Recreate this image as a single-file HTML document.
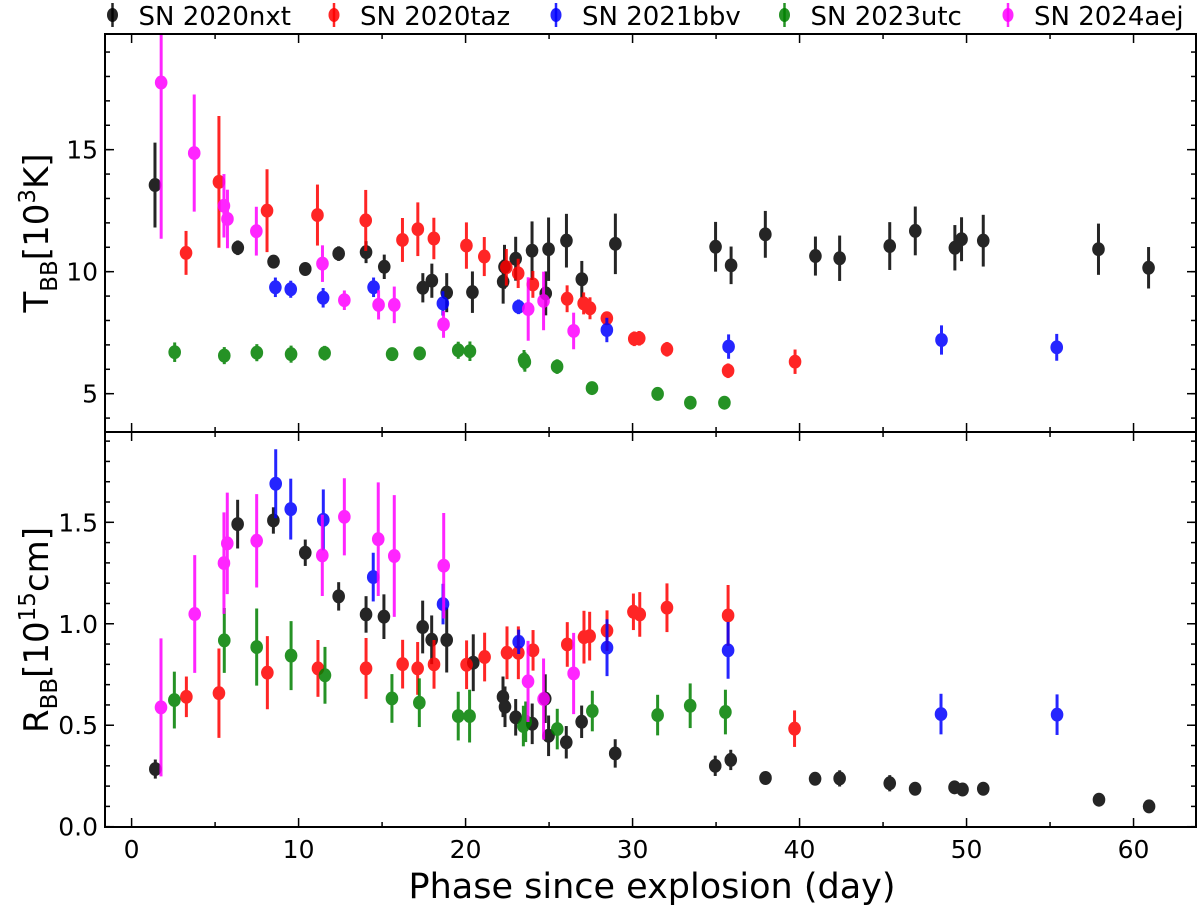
<!DOCTYPE html>
<html><head><meta charset="utf-8"><style>
html,body{margin:0;padding:0;background:#fff;}
svg{display:block;font-family:"DejaVu Sans","Liberation Sans",sans-serif;}
</style></head><body>
<svg id="chart" width="1200" height="908" viewBox="0 0 1200 908" xmlns="http://www.w3.org/2000/svg">
<defs>
<clipPath id="clipTop"><rect x="105" y="34" width="1091" height="398"/></clipPath>
<clipPath id="clipBot"><rect x="105" y="432" width="1091" height="395"/></clipPath>
</defs>
<g id="legend"></g>
<g id="topPanel"></g>
<g id="botPanel"></g>
<text transform="translate(48,233) rotate(-90)" text-anchor="middle" font-size="34">T<tspan font-size="23" dy="9">BB</tspan><tspan dy="-9">[10</tspan><tspan font-size="23" dy="-13">3</tspan><tspan dy="13">K]</tspan></text>
<text transform="translate(48,630) rotate(-90)" text-anchor="middle" font-size="34">R<tspan font-size="23" dy="9">BB</tspan><tspan dy="-9">[10</tspan><tspan font-size="23" dy="-13">15</tspan><tspan dy="13">cm]</tspan></text>
<text x="652" y="898" text-anchor="middle" font-size="35">Phase since explosion (day)</text>
</svg>
<script>
// ---- data: temperature (10^3 K) ----
const nxtTDay=[1.4,6.36,8.5,10.4,12.4,14.04,15.13,17.44,17.98,18.87,20.41,22.25,22.33,23.0,23.98,24.8,24.97,26.04,26.96,28.97,34.97,35.9,37.95,40.95,42.4,45.4,46.93,49.3,49.7,51.0,57.9,60.9];
const nxtT=[13.55,10.98,10.41,10.11,10.74,10.8,10.2,9.34,9.63,9.14,9.16,9.59,10.2,10.53,10.86,9.11,10.92,11.27,9.69,11.14,11.02,10.26,11.53,10.64,10.55,11.05,11.67,10.98,11.33,11.27,10.92,10.16];
const nxtTErr=[1.74,0.3,0.2,0.15,0.3,0.45,0.5,0.6,0.7,0.8,0.85,0.9,0.9,0.9,1.2,0.9,1.3,1.1,0.75,1.24,1.02,0.77,0.96,0.8,0.93,0.98,1.0,0.93,0.9,1.06,1.05,0.85];
const tazTDay=[3.26,5.23,8.11,11.13,14.02,16.22,17.14,18.1,20.05,21.12,22.44,23.15,24.03,26.08,27.07,27.45,28.46,30.1,30.4,32.06,35.72,39.73];
const tazT=[10.77,13.68,12.5,12.32,12.1,11.3,11.74,11.36,11.07,10.62,10.18,9.93,9.48,8.89,8.7,8.5,8.09,7.25,7.27,6.82,5.94,6.31];
const tazTErr=[0.9,2.7,1.7,1.25,1.25,0.9,1.1,0.85,0.95,0.8,0.75,0.6,0.55,0.55,0.45,0.45,0.27,0.3,0.3,0.3,0.3,0.5];
const bbvTDay=[8.61,9.53,11.47,14.49,18.64,23.17,28.46,35.75,48.5,55.4];
const bbvT=[9.36,9.28,8.93,9.36,8.7,8.56,7.61,6.93,7.2,6.9];
const bbvTErr=[0.4,0.35,0.4,0.4,0.5,0.3,0.5,0.5,0.6,0.55];
const utcTDay=[2.58,5.55,7.5,9.55,11.56,15.6,17.25,19.56,20.26,23.5,23.55,25.48,27.57,31.5,33.46,35.5];
const utcT=[6.7,6.56,6.68,6.62,6.66,6.62,6.65,6.78,6.74,6.39,6.3,6.11,5.23,4.99,4.63,4.63];
const utcTErr=[0.4,0.35,0.35,0.35,0.3,0.2,0.2,0.35,0.4,0.4,0.4,0.3,0.2,0.15,0.1,0.1];
const aejTDay=[1.77,3.75,5.53,5.74,7.47,11.43,12.74,14.79,15.73,18.68,23.75,24.67,26.47];
const aejT=[17.75,14.86,12.7,12.16,11.66,10.33,8.83,8.64,8.64,7.84,8.47,8.8,7.57];
const aejTErr=[6.4,2.4,1.3,1.2,1.0,0.75,0.4,0.6,0.75,0.55,1.3,1.2,0.75];
// ---- data: radius (10^15 cm) ----
const nxtRDay=[1.42,6.35,8.49,10.4,12.4,14.04,15.11,17.43,17.97,18.87,20.46,22.24,22.36,23.0,23.99,24.77,24.97,26.03,26.95,28.96,34.95,35.88,37.96,40.93,42.4,45.4,46.92,49.28,49.76,51.0,57.93,60.93];
const nxtR=[0.284,1.491,1.509,1.35,1.135,1.046,1.035,0.984,0.921,0.92,0.808,0.64,0.591,0.539,0.507,0.631,0.448,0.416,0.517,0.361,0.3,0.329,0.24,0.236,0.238,0.214,0.187,0.194,0.183,0.187,0.133,0.1];
const nxtRErr=[0.047,0.12,0.065,0.065,0.07,0.09,0.11,0.13,0.12,0.16,0.14,0.1,0.1,0.09,0.1,0.12,0.1,0.08,0.08,0.07,0.05,0.05,0.03,0.03,0.04,0.04,0.03,0.03,0.03,0.03,0.03,0.03];
const tazRDay=[3.28,5.23,8.13,11.16,14.04,16.23,17.13,18.11,20.06,21.14,22.48,23.16,24.04,26.09,27.09,27.43,28.47,30.05,30.43,32.06,35.72,39.7];
const tazR=[0.64,0.658,0.759,0.78,0.78,0.801,0.78,0.8,0.798,0.836,0.857,0.857,0.869,0.898,0.934,0.939,0.966,1.059,1.046,1.079,1.041,0.483];
const tazRErr=[0.1,0.22,0.18,0.14,0.15,0.12,0.13,0.12,0.12,0.12,0.13,0.13,0.1,0.11,0.13,0.12,0.1,0.09,0.11,0.12,0.15,0.09];
const bbvRDay=[8.63,9.53,11.48,14.47,18.65,23.18,28.47,35.72,48.47,55.42];
const bbvR=[1.69,1.565,1.512,1.23,1.097,0.911,0.882,0.869,0.555,0.552];
const bbvRErr=[0.17,0.15,0.15,0.12,0.1,0.06,0.14,0.14,0.1,0.1];
const utcRDay=[2.56,5.55,7.49,9.55,11.58,15.59,17.23,19.56,20.24,23.46,23.6,25.49,27.59,31.5,33.45,35.56];
const utcR=[0.624,0.918,0.885,0.843,0.746,0.632,0.611,0.545,0.545,0.496,0.517,0.481,0.57,0.55,0.596,0.565];
const utcRErr=[0.14,0.16,0.19,0.17,0.14,0.12,0.12,0.12,0.13,0.1,0.1,0.1,0.1,0.1,0.11,0.11];
const aejRDay=[1.76,3.78,5.53,5.73,7.49,11.42,12.74,14.77,15.73,18.69,23.74,24.67,26.47];
const aejR=[0.588,1.048,1.299,1.396,1.409,1.337,1.527,1.417,1.334,1.286,0.716,0.629,0.755];
const aejRErr=[0.34,0.29,0.25,0.25,0.23,0.2,0.19,0.28,0.3,0.26,0.2,0.2,0.2];
// ---- labels ----
const seriesNames=["SN 2020nxt","SN 2020taz","SN 2021bbv","SN 2023utc","SN 2024aej"];
const seriesColors=["#000000","#ff0000","#0000ff","#008000","#ff00ff"];
const xTicks=[0,10,20,30,40,50,60];
const topYTicks=[5,10,15];
const botYTicks=[0.0,0.5,1.0,1.5];
const botYTickLabels=["0.0","0.5","1.0","1.5"];

const NS="http://www.w3.org/2000/svg";
const L=105,R=1196;
const xMin=-1.593,xMax=63.74;
function xs(d){return L+(d-xMin)/(xMax-xMin)*(R-L);}
const topY0=34,topY1=432,tMin=3.43,tMax=19.74;
function yT(v){return topY1-(v-tMin)/(tMax-tMin)*(topY1-topY0);}
const botY0=432,botY1=827,rMin=-0.0015,rMax=1.945;
function yR(v){return botY1-(v-rMin)/(rMax-rMin)*(botY1-botY0);}
function mk(tag,attrs,parent){const e=document.createElementNS(NS,tag);for(const k in attrs)e.setAttribute(k,attrs[k]);parent.appendChild(e);return e;}

function drawPanel(g,clip,yf,sets,y0,y1,yMajor,yMajorLabels,yMinorStep,yLo,yHi,panel,showX){
  const dg=mk('g',{'clip-path':'url(#'+clip+')'},g);
  
  
  sets.forEach((s,si)=>{
    const sg=mk('g',{opacity:0.85},dg);
    
    
    s[0].forEach((d,i)=>{
      const cx=xs(d),cy=yf(s[1][i]);
      const eb=mk('line',{x1:cx,x2:cx,y1:yf(s[1][i]+s[2][i]),y2:yf(s[1][i]-s[2][i]),stroke:seriesColors[si],'stroke-width':3},sg);
      
      
      const c=mk('ellipse',{cx:cx,cy:cy,rx:6.3,ry:7,fill:seriesColors[si]},sg);
      
      
    });
  });
  const fr=mk('rect',{x:L,y:y0,width:R-L,height:y1-y0,fill:'none',stroke:'#000','stroke-width':2},g);
  
  
  for(let v=0;v<=xMax;v+=5){
    const x=xs(v);const len=(v%10===0)?9:5;
    mk('line',{x1:x,x2:x,y1:y1,y2:y1-len,stroke:'#000','stroke-width':1.5},g);
    mk('line',{x1:x,x2:x,y1:y0,y2:y0+len,stroke:'#000','stroke-width':1.5},g);
  }
  for(let v=Math.ceil(yLo/yMinorStep)*yMinorStep;v<=yHi;v+=yMinorStep){
    const y=yf(v);if(y<y0||y>y1)continue;
    mk('line',{x1:L,x2:L+5,y1:y,y2:y,stroke:'#000','stroke-width':1.5},g);
    mk('line',{x1:R,x2:R-5,y1:y,y2:y,stroke:'#000','stroke-width':1.5},g);
  }
  yMajor.forEach((v,i)=>{
    const y=yf(v);
    mk('line',{x1:L,x2:L+9,y1:y,y2:y,stroke:'#000','stroke-width':1.5},g);
    mk('line',{x1:R,x2:R-9,y1:y,y2:y,stroke:'#000','stroke-width':1.5},g);
    const t=mk('text',{x:98,y:y+9,'text-anchor':'end','font-size':25},g);
    t.textContent=yMajorLabels[i];
    
    
  });
  if(showX){
    xTicks.forEach(v=>{
      const t=mk('text',{x:xs(v),y:858,'text-anchor':'middle','font-size':25},g);
      t.textContent=String(v);
      
      
    });
  }
}
const topG=document.getElementById('topPanel');
const botG=document.getElementById('botPanel');
drawPanel(topG,'clipTop',yT,[[nxtTDay,nxtT,nxtTErr],[tazTDay,tazT,tazTErr],[bbvTDay,bbvT,bbvTErr],[utcTDay,utcT,utcTErr],[aejTDay,aejT,aejTErr]],topY0,topY1,topYTicks,topYTicks.map(String),1,tMin,tMax,'temperature',false);
drawPanel(botG,'clipBot',yR,[[nxtRDay,nxtR,nxtRErr],[tazRDay,tazR,tazRErr],[bbvRDay,bbvR,bbvRErr],[utcRDay,utcR,utcRErr],[aejRDay,aejR,aejRErr]],botY0,botY1,botYTicks,botYTickLabels,0.1,rMin,rMax,'radius',true);

const lg=document.getElementById('legend');
const legX=[112.5,334,556,784.5,1008];
seriesNames.forEach((n,i)=>{
  const e=mk('g',{},lg);
  
  
  mk('line',{x1:legX[i],x2:legX[i],y1:3,y2:27,stroke:seriesColors[i],'stroke-width':2.5,opacity:0.85},e);
  mk('ellipse',{cx:legX[i],cy:15,rx:5.5,ry:7,fill:seriesColors[i],opacity:0.85},e);
  const t=mk('text',{x:legX[i]+26,y:25,'font-size':26},e);
  t.textContent=n;
});
</script>
</body></html>
